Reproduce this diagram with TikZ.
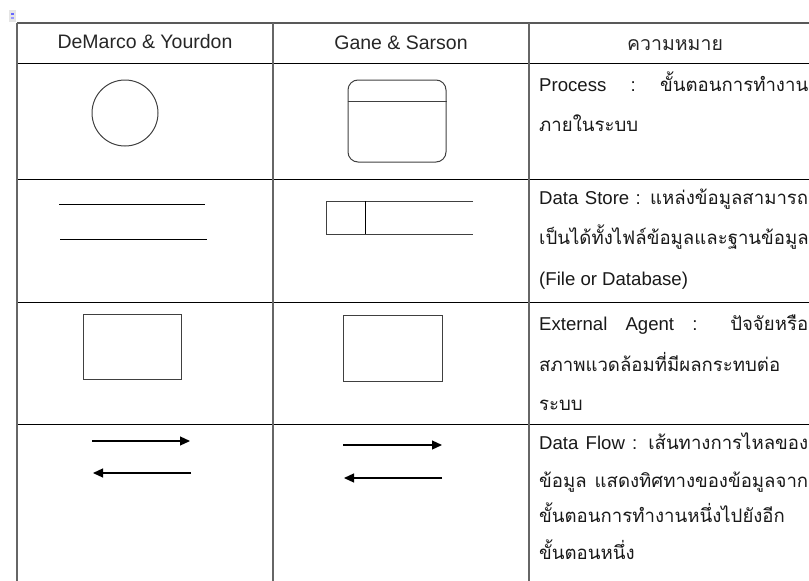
\documentclass[tikz,border=0pt]{standalone}
\usepackage{fontspec}
\setmainfont{Liberation Sans}
\newfontfamily\thai[Script=Thai]{Loma}
\usetikzlibrary{arrows.meta,calc}
\begin{document}
\begin{tikzpicture}[x=1pt,y=-1pt,
  vline/.style={draw=black!60,line width=1.6pt},
  hline/.style={draw=black,line width=1pt},
  symb/.style={draw=black!75,line width=1pt},
  flow/.style={draw=black,line width=1.2pt,-{Triangle[length=10pt,width=9pt]}},
  hdr/.style={anchor=base,inner sep=0pt,font=\fontsize{19.5}{22}\selectfont,text=black!85},
  txt/.style={anchor=base west,inner sep=0pt,font=\fontsize{18.6}{22}\selectfont,text=black!90}]
\useasboundingbox (0,0) rectangle (809,581);
% small anchor icon
\fill[black!10] (9,10) rectangle (16,22);
\fill[blue!60] (11,13) rectangle (14,15);
\fill[blue!40] (11,17) rectangle (14,19);
% table
\draw[draw=black!65,line width=1.4pt] (17,23) -- (809,23);
\foreach \yy in {63,179,302,424} \draw[hline] (17,\yy) -- (809,\yy);
\foreach \xx in {17,273,529} \draw[vline] (\xx,23) -- (\xx,581);
% headers
\node[hdr] (h1) at (145,48) {DeMarco \& Yourdon};
\node[hdr] (h2) at (401,49) {Gane \& Sarson};
\node[hdr] (h3) at (675,50) {\thai ความหมาย};
% process
\node[symb,circle,minimum size=66pt,inner sep=0pt] (p1) at (125,113) {};
\node[symb,rounded corners=10pt,minimum width=98pt,minimum height=82pt,inner sep=0pt] (p2) at (397,121) {};
\draw[symb] ($(p2.north west)+(0,22)$) -- ($(p2.north east)+(0,22)$);
% data store
\draw[hline] (59,204) -- (205,204);
\draw[hline] (60,239) -- (207,239);
\draw[symb] (473,201) -- (326,201) -- (326,234) -- (473,234);
\draw[hline] (365,201) -- (365,234);
% external agent
\node[symb,minimum width=98pt,minimum height=65pt,inner sep=0pt] (e1) at (132,346.5) {};
\node[symb,minimum width=99pt,minimum height=66pt,inner sep=0pt] (e2) at (392.5,348) {};
% data flow
\coordinate (a1s) at (92,441); \coordinate (a1e) at (190,441);
\coordinate (a2s) at (191,473); \coordinate (a2e) at (93,473);
\coordinate (b1s) at (343,445); \coordinate (b1e) at (442,445);
\coordinate (b2s) at (442,478); \coordinate (b2e) at (344,478);
\draw[flow] (a1s) -- (a1e);
\draw[flow] (a2s) -- (a2e);
\draw[flow] (b1s) -- (b1e);
\draw[flow] (b2s) -- (b2e);
% meanings
\node[txt] (t11) at (539,91) {\hbox to 269pt{Process\hfill:\hfill{\thai ขั้นตอนการทำงาน}}};
\node[txt] (t12) at (539,131) {\thai ภายในระบบ};
\node[txt] (t21) at (539,204) {\hbox to 269pt{Data Store : {\thai แหล่งข้อมูลสามารถ}}};
\node[txt] (t22) at (539,244) {\thai เป็นได้ทั้งไฟล์ข้อมูลและฐานข้อมูล};
\node[txt] (t23) at (539,285) {(File or Database)};
\node[txt] (t31) at (539,330) {\hbox to 269pt{External Agent : {\thai ปัจจัยหรือ}}};
\node[txt] (t32) at (539,371) {\thai สภาพแวดล้อมที่มีผลกระทบต่อ};
\node[txt] (t33) at (539,410) {\thai ระบบ};
\node[txt] (t41) at (539,449) {\hbox to 269pt{Data Flow : {\thai เส้นทางการไหลของ}}};
\node[txt] (t42) at (539,487) {\hbox to 269pt{\thai ข้อมูล แสดงทิศทางของข้อมูลจาก}};
\node[txt] (t43) at (539,522) {\thai ขั้นตอนการทำงานหนึ่งไปยังอีก};
\node[txt] (t44) at (539,559) {\thai ขั้นตอนหนึ่ง};
\end{tikzpicture}
\end{document}
